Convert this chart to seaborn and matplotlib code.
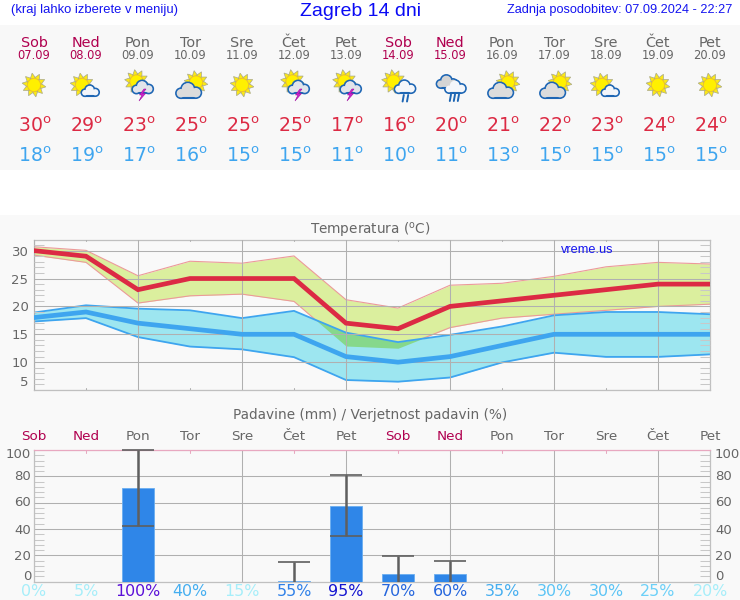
import numpy as np
import pandas as pd
import matplotlib
matplotlib.use("Agg")
import matplotlib.pyplot as plt
import matplotlib.patches as mp
import seaborn as sns

days = ['Sob', 'Ned', 'Pon', 'Tor', 'Sre', 'Čet', 'Pet', 'Sob', 'Ned', 'Pon', 'Tor', 'Sre', 'Čet', 'Pet']
dates = ['07.09', '08.09', '09.09', '10.09', '11.09', '12.09', '13.09',
         '14.09', '15.09', '16.09', '17.09', '18.09', '19.09', '20.09']
icons = ['sun', 'suncloud', 'storm', 'cloudsun', 'sun', 'storm', 'storm',
         'sunrain', 'rain', 'cloudsun', 'cloudsun', 'suncloud', 'sun', 'sun']

t_max = [30, 29, 23, 25, 25, 25, 17, 16, 20, 21, 22, 23, 24, 24]
t_min = [18, 19, 17, 16, 15, 15, 11, 10, 11, 13, 15, 15, 15, 15]
max_hi = [30.7, 30.05, 25.5, 28.1, 27.75, 29.05, 21.2, 19.7, 23.8, 24.15, 25.4, 27.1, 27.9, 27.6]
max_lo = [29.2, 27.9, 20.6, 21.9, 22.2, 20.9, 12.9, 12.5, 16.2, 17.9, 18.6, 19.3, 20.0, 20.4]
min_hi = [18.9, 20.2, 19.6, 19.3, 17.9, 19.2, 15.3, 13.6, 14.9, 16.4, 18.4, 19.0, 19.0, 18.6]
min_lo = [17.3, 17.9, 14.5, 12.8, 12.3, 10.9, 6.8, 6.5, 7.25, 9.95, 11.7, 10.95, 10.95, 11.4]

rain = [0, 0, 71, 0, 0, 0.5, 57.5, 5.8, 5.5, 0, 0, 0, 0, 0]
rain_hi = [0, 0, 100, 0, 0, 14.6, 80.8, 19.4, 15.4, 0, 0, 0, 0, 0]
rain_lo = [0, 0, 42, 0, 0, 0, 34.6, 0, 0, 0, 0, 0, 0, 0]
prob = [0, 5, 100, 40, 15, 55, 95, 70, 60, 35, 30, 30, 25, 20]
prob_colors = ['#a6eefa', '#a6eefa', '#5a0fd8', '#45aef0', '#a6eefa', '#2f80e8', '#1414d0',
               '#2566dd', '#2566dd', '#45aef0', '#5cc4f5', '#5cc4f5', '#6cd0f8', '#a6eefa']

WEEKEND = '#b0004f'
GRAY = '#666666'
BG = '#f9f9f9'
PANEL = '#f8f8f8'
RED = '#dc2a44'
BLUE = '#3ea5ef'
GRID = '#b0b0b0'
FRAME = '#c0c0c0'
DEG = r'$^{\mathrm{o}}$'

sns.set_theme(style='white', rc={'font.family': ['DejaVu Sans']})

fig = plt.figure(figsize=(7.4, 6), dpi=100, facecolor='white')


def axes_px(left, top, right, bottom):
    return fig.add_axes([left / 740, 1 - bottom / 600, (right - left) / 740, (bottom - top) / 600])


# pixel canvas for the header and everything around the two charts
bg = axes_px(0, 0, 740, 600)
bg.set_xlim(0, 740)
bg.set_ylim(600, 0)
bg.axis('off')
bg.add_patch(mp.Rectangle((0, 25), 740, 145, fc=PANEL, ec='none'))
bg.add_patch(mp.Rectangle((0, 215), 740, 385, fc=BG, ec='none'))

bg.text(11, 10, '(kraj lahko izberete v meniju)', color='#1414f0', family='Liberation Sans', fontsize=9.35, va='center')
bg.text(361, 12, 'Zagreb 14 dni', color='#0a0af5', family='Liberation Sans', fontsize=14, va='center', ha='center')
bg.text(732, 10, 'Zadnja posodobitev: 07.09.2024 - 22:27', color='#1414f0', family='Liberation Sans',
        fontsize=9.2, va='center', ha='right')


# weather icons
def sun(x, y, r=6.5):
    for a in np.arange(9, 369, 36):
        c, s = np.cos(np.radians(a)), np.sin(np.radians(a))
        px, py = -s, c
        tri = [(x + c * (r + 5.5), y + s * (r + 5.5)),
               (x + c * r + px * 2.8, y + s * r + py * 2.8),
               (x + c * r - px * 2.8, y + s * r - py * 2.8)]
        bg.add_patch(mp.Polygon(tri, fc='#fbe816', ec='#a8a88c', lw=0.5, zorder=3))
    bg.add_patch(mp.Circle((x, y), r, fc='#fff000', ec='#f8c018', lw=0.5, zorder=4))


def cloud(x, y, w=1.0, fill='#f4f6fa', edge='#1e66b4'):
    parts = [(-7 * w, 1.5 * w, 4.2 * w), (-1 * w, -2 * w, 5.8 * w), (6 * w, 1 * w, 4.6 * w)]
    for dx, dy, r in parts:
        bg.add_patch(mp.Circle((x + dx, y + dy), r, fc=fill, ec=edge, lw=1.5, zorder=5))
    bg.add_patch(mp.Rectangle((x - 7 * w, y + 1 * w), 13 * w, 4.6 * w, fc=fill, ec='none', zorder=6))
    bg.plot([x - 7 * w, x + 6 * w], [y + 5.7 * w] * 2, color=edge, lw=1.5, zorder=6)
    for dx, dy, r in parts:
        bg.add_patch(mp.Circle((x + dx, y + dy), r - 0.6, fc=fill, ec='none', zorder=6))


def bolt(x, y):
    pts = [(x + 2, y), (x - 2.5, y + 6), (x, y + 6), (x - 3, y + 12), (x + 3.5, y + 4.5), (x + 0.5, y + 4.5), (x + 4, y)]
    bg.add_patch(mp.Polygon(pts, fc='#d020d0', ec='#a010a0', lw=0.4, zorder=9))


def drops(x, y, n=3):
    offsets = (-4, 0, 4) if n == 3 else (-2.2, 2.2)
    for dx in offsets:
        bg.plot([x + dx, x + dx - 1.2], [y, y + 6.5], color='#1e66b4', lw=1.4, zorder=7)


def draw_icon(kind, x, y):
    if kind == 'sun':
        sun(x, y)
    elif kind == 'suncloud':
        sun(x - 4, y)
        cloud(x + 4.5, y + 6.5, 0.8)
    elif kind == 'cloudsun':
        sun(x + 6, y - 2.5)
        cloud(x - 1, y + 6.5, 1.15, fill='#dcdcdc')
    elif kind == 'storm':
        sun(x - 1.5, y - 3.5)
        cloud(x + 5, y + 3, 0.95, fill='#e2e4ea')
        bolt(x + 4, y + 4)
    elif kind == 'sunrain':
        sun(x - 4.5, y - 3.5)
        cloud(x + 7.3, y + 2.7, 0.95)
        drops(x + 8, y + 10, 2)
    elif kind == 'rain':
        cloud(x - 2.7, y - 2.5, 0.95, fill='#d4d4d4')
        cloud(x + 5.7, y + 2.5, 0.95)
        drops(x + 5, y + 9.5, 3)


for i in range(14):
    x = 34 + 52 * i
    col = WEEKEND if days[i] in ('Sob', 'Ned') else GRAY
    bg.text(x, 43, days[i], color=col, fontsize=10.4, ha='center', va='center')
    bg.text(x, 55.5, dates[i], color=col, fontsize=8.3, ha='center', va='center')
    draw_icon(icons[i], x, 85)
    bg.text(x + 1, 126.5, f'{t_max[i]}{DEG}', color=RED, fontsize=13.6, ha='center', va='center')
    bg.text(x + 1, 156.5, f'{t_min[i]}{DEG}', color=BLUE, fontsize=13.6, ha='center', va='center')
    bg.text(x, 437, days[i], color=col, fontsize=9.7, ha='center', va='center')
    bg.text(x, 591, f'{prob[i]}%', color=prob_colors[i], fontsize=11.4, ha='center', va='center')

bg.text(370, 230.5, f'Temperatura ({DEG}C)', color=GRAY, fontsize=9.8, ha='center', va='center')
bg.text(370, 415, 'Padavine (mm) / Verjetnost padavin (%)', color=GRAY, fontsize=9.8, ha='center', va='center')

# temperature chart
ax = axes_px(34, 239.5, 710, 389.5)
ax.set_facecolor('none')
x = np.arange(14)
temp = pd.DataFrame({'x': x, 't_max': t_max, 't_min': t_min})

hi1, lo1, hi2, lo2 = map(np.array, (max_hi, max_lo, min_hi, min_lo))
ax.fill_between(x, lo1, hi1, color='#dbef9e', lw=0, zorder=1)
ax.plot(x, hi1, color='#ec9a9a', lw=0.8, zorder=1.05)
ax.plot(x, lo1, color='#ec9a9a', lw=0.8, zorder=1.05)
ax.fill_between(x, lo2, hi2, color='#9de6f0', lw=0, zorder=1.1)
ax.fill_between(x, lo1, hi2, where=hi2 >= lo1, interpolate=True, color='#86d88b', lw=0, zorder=1.2)
ax.plot(x, hi2, color=BLUE, lw=1.3, zorder=2.1)
ax.plot(x, lo2, color=BLUE, lw=1.3, zorder=2.1)
sns.lineplot(data=temp, x='x', y='t_min', ax=ax, color=BLUE, lw=3.4, zorder=3, solid_joinstyle='miter')
sns.lineplot(data=temp, x='x', y='t_max', ax=ax, color=RED, lw=3.4, zorder=3.1, solid_joinstyle='miter')

ax.set_xlim(0, 13)
ax.set_ylim(5.1, 32)
ax.set_xlabel('')
ax.set_ylabel('')
ax.set_xticks(np.arange(0, 14, 2))
ax.set_xticks(np.arange(1, 14, 2), minor=True)
ax.set_yticks([5.1, 10, 15, 20, 25, 30])
ax.set_yticklabels(['5', '10', '15', '20', '25', '30'])
ax.yaxis.get_ticklabels()[0].set_va('bottom')
ax.set_yticks(np.arange(6, 32), minor=True)
ax.grid(True, which='major', color=GRID, lw=0.75, zorder=4)
ax.set_axisbelow(False)
ax.tick_params(axis='x', which='both', labelbottom=False, length=0)
ax.tick_params(axis='y', which='major', labelsize=9.5, labelcolor=GRAY, length=0, pad=4)
ax.tick_params(axis='y', which='minor', length=7.5, direction='in', color='#c8c8c8', width=0.75, left=True, right=True)
for v in np.arange(1, 14, 2):
    ax.plot([v, v], [5.1, 5.45], color=GRID, lw=0.75, zorder=4)
    ax.plot([v, v], [31.65, 32], color=GRID, lw=0.75, zorder=4)
for s in ax.spines.values():
    s.set_color(FRAME)
    s.set_linewidth(0.9)
ax.text(10.64, 30.2, 'vreme.us', color='#1414f0', family='Liberation Sans', fontsize=9.2, va='center', ha='center', zorder=6)

# precipitation chart
ax2 = axes_px(34, 450, 710, 581.7)
ax2.set_facecolor('none')
prec = pd.DataFrame({'x': x, 'rain': rain})
sns.barplot(data=prec, x='x', y='rain', ax=ax2, native_scale=True, width=0.61, color='#2f86e8',
            saturation=1, edgecolor='#6aaef0', linewidth=0.6, zorder=3)
rhi, rlo = np.array(rain_hi), np.array(rain_lo)
ax2.vlines(x[rhi > 0], rlo[rhi > 0], rhi[rhi > 0], color='#5f5f5f', lw=1.8, zorder=5)
ax2.hlines(rhi[rhi > 0], x[rhi > 0] - 0.305, x[rhi > 0] + 0.305, color='#5f5f5f', lw=1.2, zorder=5, clip_on=False)
ax2.hlines(rlo[rlo > 0], x[rlo > 0] - 0.305, x[rlo > 0] + 0.305, color='#5f5f5f', lw=1.2, zorder=5)
ax2.set_xlim(0, 13)
ax2.set_ylim(0, 100)
ax2.set_xlabel('')
ax2.set_ylabel('')
ax2.set_xticks(np.arange(0, 14, 2))
ax2.set_xticks(np.arange(1, 14, 2), minor=True)
ax2.set_yticks([0, 20, 40, 60, 80, 100])
ax2.set_yticks(np.arange(4, 100, 4), minor=True)
ax2.set_yticklabels(['', '', '', '', '', ''])
ax2.grid(True, which='major', color=GRID, lw=0.75, zorder=1)
ax2.set_axisbelow(True)
ax2.tick_params(axis='x', which='both', labelbottom=False, length=0)
ax2.tick_params(axis='y', which='major', length=0)
ax2.tick_params(axis='y', which='minor', length=7.5, direction='in', color='#c8c8c8', width=0.75, left=True, right=True)
for v in np.arange(1, 14, 2):
    ax2.plot([v, v], [98, 100], color='#e8a8c0', lw=0.75, zorder=2)
for s in ax2.spines.values():
    s.set_color(FRAME)
    s.set_linewidth(0.9)
ax2.spines['top'].set_color('#e8a8c0')

# the percent labels sit a bit above their gridlines
for v, py in zip([0, 20, 40, 60, 80, 100], [577, 556, 530, 503, 477, 455]):
    bg.text(31, py, str(v), color=GRAY, fontsize=9.5, ha='right', va='center')
    bg.text(715, py, str(v), color=GRAY, fontsize=9.5, ha='left', va='center')

fig.savefig('out.png', dpi=100, facecolor='white')
